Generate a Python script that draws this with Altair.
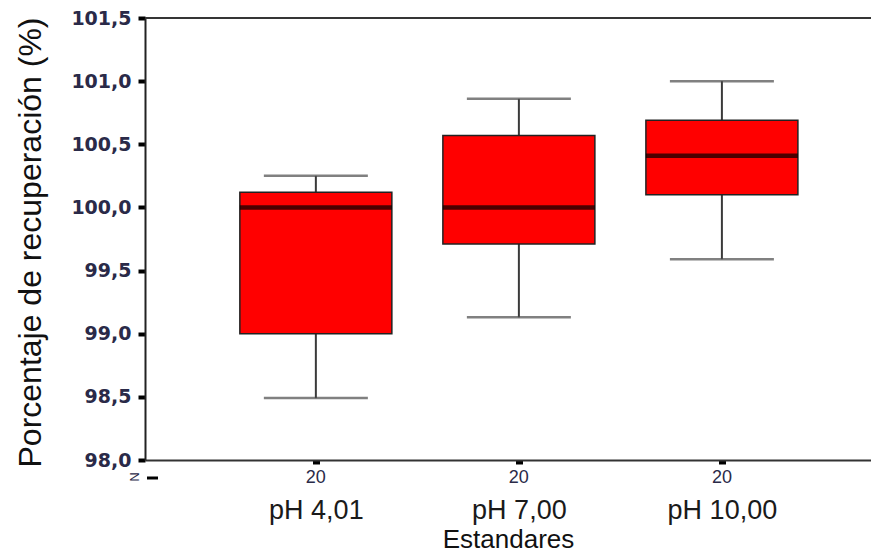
import altair as alt
import pandas as pd

categories = ["pH 4,01", "pH 7,00", "pH 10,00"]
lower_whisker = [98.49, 99.13, 99.59]
q1 = [99.00, 99.71, 100.10]
median = [100.00, 100.00, 100.41]
q3 = [100.12, 100.57, 100.69]
upper_whisker = [100.25, 100.86, 101.00]
n_counts = ["20", "20", "20"]
y_ticks = [98.0, 98.5, 99.0, 99.5, 100.0, 100.5, 101.0, 101.5]

df = pd.DataFrame({
    "cat": categories, "lo": lower_whisker, "q1": q1, "med": median,
    "q3": q3, "hi": upper_whisker, "n": n_counts,
})

W, H = 726, 442

xscale = alt.Scale(type="point", padding=0.788, align=0.534)
yscale = alt.Scale(domain=[98.0, 101.5], nice=False, zero=False)

xaxis = alt.Axis(
    title="Estandares", titleFont="Liberation Sans", titleFontSize=26,
    titleFontWeight="normal", titleColor="#111111", titleY=66, titleBaseline="top",
    labelFont="Liberation Sans", labelFontSize=27, labelColor="#1a1a1a",
    labelAngle=0, labelPadding=33, tickSize=4, tickWidth=7, tickColor="black",
    domainColor="#333333", domainWidth=2, grid=False,
)
yaxis = alt.Axis(
    values=y_ticks,
    labelExpr="replace(format(datum.value, '.1f'), '.', ',')",
    title="Porcentaje de recuperación (%)", titleFont="Liberation Sans",
    titleFontSize=32, titleFontWeight="normal", titleColor="#111111",
    titleAngle=270, titleX=-115, titleY=H / 2 + 3, titleAlign="center",
    titleBaseline="middle",
    labelFont="DejaVu Sans", labelFontSize=19, labelFontWeight="bold",
    labelColor="#2a2a48", labelPadding=7, tickSize=7, tickWidth=4,
    tickColor="black", domainColor="#222222", domainWidth=2, grid=False,
)

X = alt.X("cat:N", sort=categories, scale=xscale, axis=xaxis)

base = alt.Chart(df)

top_line = base.mark_rule(color="#333333", strokeWidth=1.5).encode(
    y=alt.datum(101.5, type="quantitative", scale=yscale, axis=yaxis)
)

whisker = base.mark_rule(color="#3a3a3a", strokeWidth=2).encode(
    x=X, y=alt.Y("lo:Q", scale=yscale, axis=yaxis), y2="hi:Q"
)
cap_lo = base.mark_tick(color="#4a4a4a", size=104, thickness=2.5).encode(
    x=X, y=alt.Y("lo:Q", scale=yscale, axis=yaxis)
)
cap_hi = base.mark_tick(color="#4a4a4a", size=104, thickness=2.5).encode(
    x=X, y=alt.Y("hi:Q", scale=yscale, axis=yaxis)
)
box = base.mark_bar(size=152, color="#ff0000", stroke="#222222", strokeWidth=1.5).encode(
    x=X, y=alt.Y("q1:Q", scale=yscale, axis=yaxis), y2="q3:Q"
)
med = base.mark_tick(color="black", size=152, thickness=4.5).encode(
    x=X, y=alt.Y("med:Q", scale=yscale, axis=yaxis)
)
counts = base.mark_text(font="Liberation Sans", fontSize=18, color="#2a2a48",
                        baseline="middle").encode(
    x=X, y=alt.value(H + 18), text="n:N"
)

one = alt.Chart(alt.Data(values=[{"a": 1}]))
n_label = one.mark_text(text="N", font="Liberation Sans", fontSize=13,
                        color="#2a2a48", angle=90, baseline="middle").encode(
    x=alt.value(-11), y=alt.value(H + 17)
)
n_dash = one.mark_rule(color="black", strokeWidth=3).encode(
    x=alt.value(2), x2=alt.value(13), y=alt.value(H + 18)
)

chart = alt.layer(
    top_line, whisker, cap_lo, cap_hi, box, med, counts, n_label, n_dash
).properties(
    width=W, height=H,
    autosize=alt.AutoSizeParams(type="none"),
    padding={"left": 137, "top": 10, "right": 0, "bottom": 92},
    background="white",
).configure_view(stroke=None)

chart.save("out.html", embed_options={"renderer": "svg", "actions": False})
